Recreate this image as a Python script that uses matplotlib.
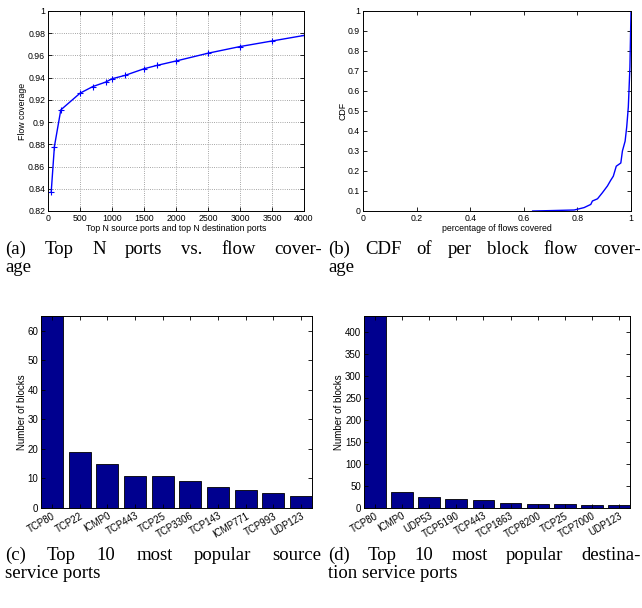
import matplotlib
matplotlib.use('Agg')
import matplotlib.pyplot as plt

plt.rcParams['font.family'] = ['Liberation Sans', 'DejaVu Sans']
plt.rcParams['xtick.direction'] = 'in'
plt.rcParams['ytick.direction'] = 'in'
plt.rcParams['xtick.top'] = True
plt.rcParams['ytick.right'] = True
plt.rcParams['axes.linewidth'] = 0.7

# (a) top N ports vs flow coverage
top_n = [50, 100, 200, 500, 700, 900, 1000, 1200, 1500, 1700, 2000, 2500, 3000, 3500, 4000]
coverage = [0.837, 0.878, 0.911, 0.926, 0.932, 0.936, 0.939, 0.942, 0.948, 0.951,
            0.955, 0.962, 0.968, 0.973, 0.978]

# (b) CDF of per block flow coverage
cdf_x = [0.633, 0.70, 0.788, 0.825, 0.85, 0.856, 0.875, 0.893, 0.912, 0.924, 0.934,
         0.945, 0.962, 0.968, 0.978, 0.984, 0.99, 0.996, 1.0]
cdf_y = [0.0, 0.002, 0.005, 0.017, 0.033, 0.05, 0.061, 0.091, 0.125, 0.153, 0.174,
         0.224, 0.24, 0.30, 0.349, 0.42, 0.52, 0.72, 1.0]

# (c) top 10 source service ports
src_ports = ['TCP80', 'TCP22', 'ICMP0', 'TCP443', 'TCP25', 'TCP3306', 'TCP143',
             'ICMP771', 'TCP993', 'UDP123']
src_blocks = [65, 19, 15, 11, 11, 9, 7, 6, 5, 4]

# (d) top 10 destination service ports
dst_ports = ['TCP80', 'ICMP0', 'UDP53', 'TCP5190', 'TCP443', 'TCP1863', 'TCP8200',
             'TCP25', 'TCP7000', 'UDP123']
dst_blocks = [437, 36, 26, 20, 18, 11, 8, 8, 7, 6]

W, H = 642, 608
fig = plt.figure(figsize=(W / 100, H / 100), dpi=100)


def box(l, t, r, b):
    return [l / W, 1 - b / H, (r - l) / W, (b - t) / H]


tick_fs = 6.3
lab_fs = 6.3

# panel a
ax_a = fig.add_axes(box(48, 11, 304, 211))
ax_a.plot(top_n, coverage, color='blue', lw=1, marker='+', ms=4, mew=0.8)
ax_a.set_xlim(0, 4000)
ax_a.set_ylim(0.82, 1)
ax_a.set_xticks(range(0, 4001, 500))
ax_a.set_yticks([0.82 + 0.02 * i for i in range(10)])
ax_a.set_yticklabels(['0.82', '0.84', '0.86', '0.88', '0.9', '0.92', '0.94', '0.96', '0.98', '1'])
ax_a.grid(True, ls=':', color='#888888', lw=0.6)
ax_a.tick_params(labelsize=tick_fs, length=3, width=0.6, pad=2)
ax_a.set_xlabel('Top N source ports and top N destination ports', fontsize=lab_fs, labelpad=1)
ax_a.set_ylabel('Flow coverage', fontsize=lab_fs, labelpad=0.5)

# panel b
ax_b = fig.add_axes(box(363, 11, 631, 211))
ax_b.plot(cdf_x, cdf_y, color='blue', lw=1)
ax_b.set_xlim(0, 1)
ax_b.set_ylim(0, 1)
ax_b.set_xticks([0, 0.2, 0.4, 0.6, 0.8, 1])
ax_b.set_xticklabels(['0', '0.2', '0.4', '0.6', '0.8', '1'])
ax_b.set_yticks([i / 10 for i in range(11)])
ax_b.set_yticklabels(['0'] + ['0.%d' % i for i in range(1, 10)] + ['1'])
ax_b.tick_params(labelsize=tick_fs, length=3, width=0.6, pad=2)
ax_b.set_xlabel('percentage of flows covered', fontsize=lab_fs, labelpad=1)
ax_b.set_ylabel('CDF', fontsize=lab_fs, labelpad=0.5)

bar_col = '#00008f'

# panel c
ax_c = fig.add_axes(box(41, 316, 312, 508))
pos = range(1, len(src_ports) + 1)
ax_c.bar(pos, src_blocks, width=0.8, color=bar_col, edgecolor='black', lw=0.6)
ax_c.set_xlim(0.6, 10.4)
ax_c.set_ylim(0, 65)
ax_c.set_xticks(list(pos))
ax_c.set_xticklabels(src_ports, rotation=30, ha='right', rotation_mode='anchor')
ax_c.set_yticks(range(0, 61, 10))
ax_c.tick_params(labelsize=7, length=3, width=0.6, pad=2)
ax_c.set_ylabel('Number of blocks', fontsize=7, labelpad=0.5)

# panel d
ax_d = fig.add_axes(box(364, 316, 630, 508))
pos = range(1, len(dst_ports) + 1)
ax_d.bar(pos, dst_blocks, width=0.8, color=bar_col, edgecolor='black', lw=0.6)
ax_d.set_xlim(0.6, 10.4)
ax_d.set_ylim(0, 437)
ax_d.set_xticks(list(pos))
ax_d.set_xticklabels(dst_ports, rotation=30, ha='right', rotation_mode='anchor')
ax_d.set_yticks(range(0, 401, 50))
ax_d.tick_params(labelsize=7, length=3, width=0.6, pad=2)
ax_d.set_ylabel('Number of blocks', fontsize=7, labelpad=0.5)

# captions (justified first lines, like the paper)
cap_fs = 13.5
serif = ['Liberation Serif', 'DejaVu Serif']
renderer = fig.canvas.get_renderer()


def justify(words, x0, x1, y):
    objs = [fig.text(0, 1 - y / H, w, fontsize=cap_fs, family=serif, va='baseline') for w in words]
    widths = [o.get_window_extent(renderer).width for o in objs]
    gap = (x1 - x0 - sum(widths)) / (len(words) - 1)
    x = x0
    for o, w in zip(objs, widths):
        o.set_x(x / W)
        x += w + gap


def plain(s, x, y):
    fig.text(x / W, 1 - y / H, s, fontsize=cap_fs, family=serif, va='baseline')


justify(['(a)', 'Top', 'N', 'ports', 'vs.', 'flow', 'cover-'], 5, 322, 254)
plain('age', 5, 272)
justify(['(b)', 'CDF', 'of', 'per', 'block', 'flow', 'cover-'], 328, 641, 254)
plain('age', 328, 272)
justify(['(c)', 'Top', '10', 'most', 'popular', 'source'], 5, 321, 560)
plain('service ports', 5, 578)
justify(['(d)', 'Top', '10', 'most', 'popular', 'destina-'], 328, 641, 560)
plain('tion service ports', 328, 578)

fig.savefig('out.png', dpi=100)
